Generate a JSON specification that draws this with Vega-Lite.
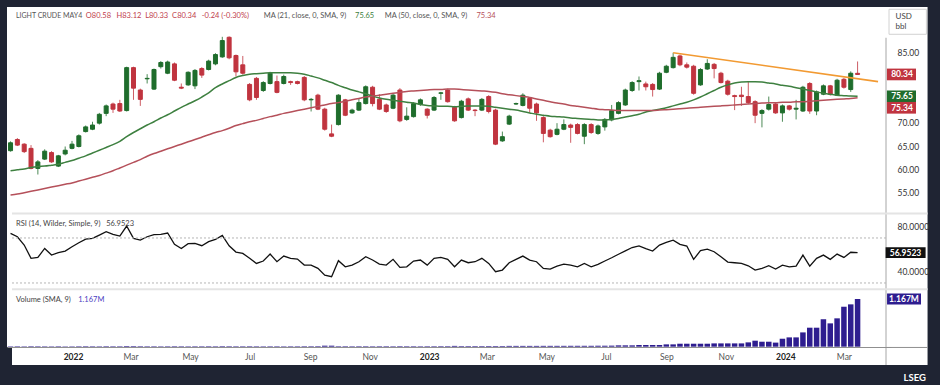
{
"$schema": "https://vega.github.io/schema/vega-lite/v6.json",
"width": 884, "height": 340,
"autosize": {"type": "none"},
"padding": {"left": 7, "top": 7, "right": 49, "bottom": 38},
"background": "#1f2433",
"config": {"view": {"fill": "#ffffff", "stroke": null}, "font": "Lato"},
"data": {"values": [
{"d":"2021-10-29","o":64.0,"h":66.0,"l":63.8,"c":65.7,"m21":59.7,"m50":54.5,"rsi":74.1,"v":11000},
{"d":"2021-11-05","o":66.4,"h":66.7,"l":65.0,"c":65.2,"m21":59.9,"m50":54.7,"rsi":71.1,"v":12000},
{"d":"2021-11-12","o":65.4,"h":65.6,"l":63.5,"c":63.8,"m21":60.1,"m50":55.0,"rsi":63.7,"v":10000},
{"d":"2021-11-19","o":64.5,"h":65.2,"l":60.0,"c":60.2,"m21":60.4,"m50":55.3,"rsi":51.9,"v":13000},
{"d":"2021-11-26","o":60.2,"h":62.0,"l":58.9,"c":61.6,"m21":60.6,"m50":55.6,"rsi":52.7,"v":12000},
{"d":"2021-12-03","o":62.2,"h":64.3,"l":62.0,"c":63.9,"m21":60.7,"m50":55.9,"rsi":60.7,"v":11000},
{"d":"2021-12-10","o":63.6,"h":63.9,"l":61.4,"c":61.6,"m21":60.9,"m50":56.2,"rsi":54.8,"v":10000},
{"d":"2021-12-17","o":60.7,"h":63.1,"l":60.5,"c":62.9,"m21":61.1,"m50":56.5,"rsi":56.9,"v":12000},
{"d":"2021-12-24","o":63.3,"h":64.9,"l":63.0,"c":64.1,"m21":61.5,"m50":56.8,"rsi":58.4,"v":9000},
{"d":"2021-12-31","o":64.5,"h":66.1,"l":64.3,"c":65.4,"m21":61.9,"m50":57.1,"rsi":62.2,"v":10000},
{"d":"2022-01-07","o":64.9,"h":67.5,"l":64.7,"c":67.2,"m21":62.4,"m50":57.5,"rsi":65.8,"v":12000},
{"d":"2022-01-14","o":68.1,"h":69.4,"l":67.9,"c":69.1,"m21":62.9,"m50":57.9,"rsi":69.0,"v":13000},
{"d":"2022-01-21","o":68.6,"h":70.2,"l":68.4,"c":69.5,"m21":63.5,"m50":58.3,"rsi":69.6,"v":12000},
{"d":"2022-01-28","o":69.9,"h":72.1,"l":69.6,"c":71.8,"m21":64.1,"m50":58.7,"rsi":72.6,"v":11000},
{"d":"2022-02-04","o":72.0,"h":73.9,"l":71.4,"c":73.6,"m21":64.7,"m50":59.2,"rsi":75.6,"v":13000},
{"d":"2022-02-11","o":74.0,"h":74.3,"l":72.1,"c":72.9,"m21":65.3,"m50":59.7,"rsi":73.2,"v":12000},
{"d":"2022-02-18","o":74.1,"h":74.9,"l":72.3,"c":72.5,"m21":66.0,"m50":60.3,"rsi":71.7,"v":12000},
{"d":"2022-02-25","o":72.6,"h":82.0,"l":72.4,"c":81.8,"m21":67.0,"m50":60.9,"rsi":80.6,"v":16000},
{"d":"2022-03-04","o":81.8,"h":82.0,"l":74.9,"c":77.4,"m21":67.9,"m50":61.5,"rsi":69.6,"v":15000},
{"d":"2022-03-11","o":77.0,"h":77.3,"l":73.6,"c":75.0,"m21":68.7,"m50":62.1,"rsi":68.1,"v":13000},
{"d":"2022-03-18","o":79.4,"h":80.4,"l":78.4,"c":79.5,"m21":69.5,"m50":62.8,"rsi":71.1,"v":12000},
{"d":"2022-03-25","o":77.2,"h":81.6,"l":77.0,"c":81.4,"m21":70.2,"m50":63.4,"rsi":72.9,"v":12000},
{"d":"2022-04-01","o":82.0,"h":83.2,"l":81.6,"c":82.9,"m21":71.0,"m50":63.9,"rsi":73.2,"v":11000},
{"d":"2022-04-08","o":80.6,"h":83.3,"l":80.4,"c":83.0,"m21":71.7,"m50":64.4,"rsi":74.4,"v":12000},
{"d":"2022-04-15","o":82.6,"h":82.9,"l":78.9,"c":79.1,"m21":72.5,"m50":64.9,"rsi":64.3,"v":13000},
{"d":"2022-04-22","o":77.6,"h":78.4,"l":77.2,"c":77.4,"m21":73.3,"m50":65.4,"rsi":60.7,"v":12000},
{"d":"2022-04-29","o":78.1,"h":81.0,"l":77.9,"c":80.8,"m21":74.0,"m50":65.9,"rsi":64.9,"v":11000},
{"d":"2022-05-06","o":77.9,"h":81.5,"l":77.2,"c":81.2,"m21":74.7,"m50":66.4,"rsi":65.2,"v":12000},
{"d":"2022-05-13","o":81.6,"h":81.9,"l":79.6,"c":80.2,"m21":75.5,"m50":66.9,"rsi":63.1,"v":12000},
{"d":"2022-05-20","o":81.4,"h":83.5,"l":81.2,"c":83.2,"m21":76.4,"m50":67.4,"rsi":66.7,"v":13000},
{"d":"2022-05-27","o":82.6,"h":84.9,"l":82.3,"c":84.6,"m21":77.5,"m50":67.9,"rsi":68.7,"v":12000},
{"d":"2022-06-03","o":84.1,"h":88.4,"l":83.9,"c":87.6,"m21":78.3,"m50":68.3,"rsi":72.3,"v":14000},
{"d":"2022-06-10","o":88.3,"h":88.5,"l":83.6,"c":83.9,"m21":79.0,"m50":68.8,"rsi":63.1,"v":13000},
{"d":"2022-06-17","o":84.4,"h":84.6,"l":79.9,"c":80.9,"m21":79.7,"m50":69.4,"rsi":57.5,"v":12000},
{"d":"2022-06-24","o":82.4,"h":84.3,"l":80.3,"c":80.6,"m21":80.1,"m50":69.8,"rsi":56.3,"v":12000},
{"d":"2022-07-01","o":78.2,"h":78.5,"l":74.6,"c":74.9,"m21":80.4,"m50":70.2,"rsi":51.9,"v":13000},
{"d":"2022-07-08","o":79.5,"h":79.8,"l":74.9,"c":75.4,"m21":80.5,"m50":70.5,"rsi":47.4,"v":12000},
{"d":"2022-07-15","o":76.9,"h":78.9,"l":76.6,"c":78.6,"m21":80.6,"m50":70.9,"rsi":49.5,"v":11000},
{"d":"2022-07-22","o":78.4,"h":80.9,"l":78.2,"c":80.6,"m21":80.7,"m50":71.3,"rsi":55.7,"v":12000},
{"d":"2022-07-29","o":78.8,"h":80.1,"l":76.3,"c":76.5,"m21":80.7,"m50":71.6,"rsi":48.9,"v":12000},
{"d":"2022-08-05","o":78.4,"h":80.3,"l":78.2,"c":79.9,"m21":80.7,"m50":72.0,"rsi":53.9,"v":11000},
{"d":"2022-08-12","o":78.8,"h":79.0,"l":78.1,"c":78.6,"m21":80.7,"m50":72.3,"rsi":51.9,"v":12000},
{"d":"2022-08-19","o":78.8,"h":79.0,"l":78.2,"c":78.4,"m21":80.6,"m50":72.6,"rsi":51.3,"v":12000},
{"d":"2022-08-26","o":79.7,"h":80.0,"l":74.6,"c":74.9,"m21":80.4,"m50":72.9,"rsi":45.9,"v":13000},
{"d":"2022-09-02","o":74.9,"h":75.3,"l":72.4,"c":75.0,"m21":80.0,"m50":73.2,"rsi":45.9,"v":13000},
{"d":"2022-09-09","o":75.9,"h":76.2,"l":72.7,"c":72.9,"m21":79.6,"m50":73.5,"rsi":43.0,"v":14000},
{"d":"2022-09-16","o":72.9,"h":73.2,"l":68.3,"c":68.6,"m21":79.1,"m50":73.8,"rsi":37.0,"v":25000},
{"d":"2022-09-23","o":67.6,"h":69.6,"l":66.9,"c":67.1,"m21":78.6,"m50":74.1,"rsi":35.6,"v":25000},
{"d":"2022-09-30","o":69.6,"h":76.1,"l":69.4,"c":75.9,"m21":78.0,"m50":74.3,"rsi":49.8,"v":13000},
{"d":"2022-10-07","o":74.9,"h":75.1,"l":71.4,"c":71.6,"m21":77.5,"m50":74.6,"rsi":44.4,"v":13000},
{"d":"2022-10-14","o":72.1,"h":73.0,"l":71.9,"c":72.7,"m21":77.0,"m50":74.9,"rsi":45.9,"v":12000},
{"d":"2022-10-21","o":72.7,"h":75.2,"l":72.5,"c":74.3,"m21":76.6,"m50":75.2,"rsi":48.9,"v":13000},
{"d":"2022-10-28","o":74.1,"h":78.0,"l":73.9,"c":77.7,"m21":76.2,"m50":75.5,"rsi":53.3,"v":13000},
{"d":"2022-11-04","o":77.6,"h":77.9,"l":73.5,"c":74.1,"m21":75.7,"m50":75.7,"rsi":50.4,"v":12000},
{"d":"2022-11-11","o":75.0,"h":76.1,"l":72.7,"c":72.9,"m21":75.3,"m50":75.9,"rsi":46.8,"v":13000},
{"d":"2022-11-18","o":73.8,"h":74.1,"l":72.1,"c":72.4,"m21":75.0,"m50":76.1,"rsi":45.9,"v":13000},
{"d":"2022-11-25","o":73.1,"h":76.2,"l":72.9,"c":75.9,"m21":74.8,"m50":76.3,"rsi":51.0,"v":12000},
{"d":"2022-12-02","o":77.0,"h":77.4,"l":70.1,"c":70.4,"m21":74.6,"m50":76.5,"rsi":43.9,"v":14000},
{"d":"2022-12-09","o":70.7,"h":73.3,"l":70.4,"c":71.4,"m21":74.4,"m50":76.7,"rsi":44.4,"v":13000},
{"d":"2022-12-16","o":71.3,"h":74.4,"l":71.1,"c":74.1,"m21":74.2,"m50":76.8,"rsi":49.5,"v":13000},
{"d":"2022-12-23","o":74.0,"h":75.2,"l":73.6,"c":74.9,"m21":73.9,"m50":76.9,"rsi":50.4,"v":12000},
{"d":"2022-12-30","o":72.9,"h":73.1,"l":70.9,"c":71.6,"m21":73.7,"m50":77.0,"rsi":45.9,"v":13000},
{"d":"2023-01-06","o":72.7,"h":75.7,"l":72.5,"c":75.4,"m21":73.6,"m50":77.1,"rsi":51.9,"v":13000},
{"d":"2023-01-13","o":76.3,"h":76.6,"l":74.9,"c":76.4,"m21":73.5,"m50":77.1,"rsi":52.7,"v":14000},
{"d":"2023-01-20","o":77.0,"h":77.3,"l":74.3,"c":74.5,"m21":73.5,"m50":77.2,"rsi":51.0,"v":14000},
{"d":"2023-01-27","o":73.3,"h":73.6,"l":70.2,"c":70.4,"m21":73.4,"m50":77.2,"rsi":44.4,"v":20000},
{"d":"2023-02-03","o":71.1,"h":74.9,"l":70.9,"c":74.6,"m21":73.5,"m50":77.1,"rsi":50.4,"v":15000},
{"d":"2023-02-10","o":75.1,"h":75.4,"l":72.5,"c":72.7,"m21":73.6,"m50":77.0,"rsi":48.0,"v":15000},
{"d":"2023-02-17","o":72.7,"h":72.9,"l":71.4,"c":72.6,"m21":73.6,"m50":76.9,"rsi":48.9,"v":15000},
{"d":"2023-02-24","o":72.7,"h":75.3,"l":72.5,"c":75.0,"m21":73.6,"m50":76.8,"rsi":51.9,"v":15000},
{"d":"2023-03-03","o":75.6,"h":75.9,"l":72.0,"c":72.4,"m21":73.5,"m50":76.7,"rsi":47.4,"v":16000},
{"d":"2023-03-10","o":72.7,"h":73.0,"l":65.2,"c":65.4,"m21":73.3,"m50":76.5,"rsi":40.0,"v":16000},
{"d":"2023-03-17","o":66.1,"h":68.1,"l":65.9,"c":67.0,"m21":73.1,"m50":76.2,"rsi":41.5,"v":16000},
{"d":"2023-03-24","o":69.7,"h":71.7,"l":69.5,"c":71.4,"m21":72.9,"m50":76.0,"rsi":48.0,"v":20000},
{"d":"2023-03-31","o":74.0,"h":74.3,"l":73.8,"c":74.1,"m21":72.7,"m50":75.8,"rsi":51.0,"v":20000},
{"d":"2023-04-07","o":73.7,"h":76.3,"l":73.5,"c":75.9,"m21":72.4,"m50":75.6,"rsi":53.9,"v":20000},
{"d":"2023-04-14","o":75.2,"h":75.5,"l":72.1,"c":73.1,"m21":72.1,"m50":75.4,"rsi":50.4,"v":20000},
{"d":"2023-04-21","o":74.0,"h":74.3,"l":70.4,"c":72.1,"m21":71.8,"m50":75.1,"rsi":48.9,"v":20000},
{"d":"2023-04-28","o":71.1,"h":71.4,"l":65.8,"c":67.7,"m21":71.6,"m50":74.8,"rsi":43.0,"v":21000},
{"d":"2023-05-05","o":68.4,"h":68.7,"l":66.8,"c":67.0,"m21":71.4,"m50":74.5,"rsi":42.4,"v":21000},
{"d":"2023-05-12","o":67.5,"h":69.9,"l":67.3,"c":68.6,"m21":71.3,"m50":74.2,"rsi":45.0,"v":21000},
{"d":"2023-05-19","o":68.6,"h":70.7,"l":68.4,"c":69.6,"m21":71.2,"m50":74.0,"rsi":46.8,"v":21000},
{"d":"2023-05-26","o":69.5,"h":69.8,"l":65.7,"c":69.0,"m21":71.0,"m50":73.7,"rsi":45.9,"v":22000},
{"d":"2023-06-02","o":69.6,"h":69.9,"l":67.5,"c":67.7,"m21":70.9,"m50":73.5,"rsi":44.4,"v":22000},
{"d":"2023-06-09","o":67.1,"h":69.9,"l":65.4,"c":69.6,"m21":70.8,"m50":73.3,"rsi":47.4,"v":22000},
{"d":"2023-06-16","o":69.6,"h":69.9,"l":67.6,"c":67.9,"m21":70.7,"m50":73.1,"rsi":44.4,"v":22000},
{"d":"2023-06-23","o":67.7,"h":69.6,"l":67.4,"c":69.3,"m21":70.6,"m50":72.9,"rsi":46.5,"v":24000},
{"d":"2023-06-30","o":69.1,"h":71.0,"l":68.3,"c":70.7,"m21":70.6,"m50":72.8,"rsi":49.5,"v":24000},
{"d":"2023-07-07","o":70.6,"h":73.8,"l":70.3,"c":72.6,"m21":70.7,"m50":72.7,"rsi":52.4,"v":26000},
{"d":"2023-07-14","o":72.0,"h":74.6,"l":71.8,"c":74.3,"m21":70.9,"m50":72.6,"rsi":55.5,"v":33000},
{"d":"2023-07-21","o":73.8,"h":77.3,"l":73.6,"c":77.0,"m21":71.2,"m50":72.6,"rsi":58.5,"v":33000},
{"d":"2023-07-28","o":76.9,"h":78.9,"l":76.6,"c":78.6,"m21":71.5,"m50":72.6,"rsi":61.5,"v":33000},
{"d":"2023-08-04","o":78.8,"h":79.9,"l":76.9,"c":79.0,"m21":71.8,"m50":72.6,"rsi":63.0,"v":41000},
{"d":"2023-08-11","o":78.3,"h":78.8,"l":76.9,"c":77.7,"m21":72.3,"m50":72.6,"rsi":60.5,"v":41000},
{"d":"2023-08-18","o":78.2,"h":78.5,"l":75.6,"c":77.1,"m21":72.6,"m50":72.6,"rsi":58.4,"v":41000},
{"d":"2023-08-25","o":77.2,"h":80.9,"l":77.0,"c":80.6,"m21":72.9,"m50":72.7,"rsi":63.7,"v":41000},
{"d":"2023-09-01","o":80.8,"h":82.4,"l":80.6,"c":82.1,"m21":73.2,"m50":72.8,"rsi":66.1,"v":57000},
{"d":"2023-09-08","o":81.8,"h":85.0,"l":81.6,"c":84.0,"m21":73.6,"m50":72.9,"rsi":68.1,"v":57000},
{"d":"2023-09-15","o":84.3,"h":84.6,"l":82.1,"c":82.4,"m21":74.0,"m50":73.0,"rsi":64.3,"v":73000},
{"d":"2023-09-22","o":82.4,"h":82.9,"l":81.6,"c":81.9,"m21":74.4,"m50":73.1,"rsi":62.8,"v":73000},
{"d":"2023-09-29","o":82.1,"h":82.4,"l":76.0,"c":76.3,"m21":74.9,"m50":73.2,"rsi":51.0,"v":73000},
{"d":"2023-10-06","o":78.1,"h":81.7,"l":77.9,"c":81.4,"m21":75.5,"m50":73.3,"rsi":58.7,"v":73000},
{"d":"2023-10-13","o":81.5,"h":83.6,"l":81.3,"c":82.7,"m21":76.2,"m50":73.4,"rsi":60.1,"v":73000},
{"d":"2023-10-20","o":82.5,"h":82.8,"l":79.5,"c":81.6,"m21":76.9,"m50":73.5,"rsi":57.8,"v":81000},
{"d":"2023-10-27","o":80.6,"h":80.9,"l":78.4,"c":78.6,"m21":77.6,"m50":73.6,"rsi":53.3,"v":81000},
{"d":"2023-11-03","o":78.9,"h":79.2,"l":75.8,"c":76.1,"m21":78.1,"m50":73.7,"rsi":48.6,"v":81000},
{"d":"2023-11-10","o":75.8,"h":76.0,"l":72.7,"c":75.6,"m21":78.5,"m50":73.8,"rsi":48.0,"v":81000},
{"d":"2023-11-17","o":75.9,"h":77.7,"l":73.6,"c":75.6,"m21":78.7,"m50":73.9,"rsi":47.4,"v":81000},
{"d":"2023-11-24","o":75.6,"h":78.9,"l":74.0,"c":74.3,"m21":78.8,"m50":74.0,"rsi":45.3,"v":106000},
{"d":"2023-12-01","o":74.5,"h":74.8,"l":69.9,"c":71.6,"m21":78.8,"m50":74.1,"rsi":41.5,"v":147000},
{"d":"2023-12-08","o":72.0,"h":72.9,"l":69.0,"c":72.6,"m21":78.7,"m50":74.2,"rsi":43.0,"v":122000},
{"d":"2023-12-15","o":72.9,"h":75.6,"l":72.6,"c":73.9,"m21":78.5,"m50":74.3,"rsi":45.3,"v":122000},
{"d":"2023-12-22","o":74.0,"h":74.3,"l":71.9,"c":72.1,"m21":78.3,"m50":74.3,"rsi":42.4,"v":100000},
{"d":"2023-12-29","o":72.1,"h":73.9,"l":70.2,"c":73.6,"m21":78.0,"m50":74.4,"rsi":45.9,"v":195000},
{"d":"2024-01-05","o":73.6,"h":73.8,"l":72.6,"c":72.9,"m21":77.8,"m50":74.4,"rsi":44.4,"v":228000},
{"d":"2024-01-12","o":72.9,"h":74.9,"l":70.7,"c":73.1,"m21":77.5,"m50":74.5,"rsi":45.0,"v":228000},
{"d":"2024-01-19","o":72.5,"h":77.9,"l":72.3,"c":77.6,"m21":77.2,"m50":74.5,"rsi":54.8,"v":350000},
{"d":"2024-01-26","o":78.4,"h":78.7,"l":71.9,"c":72.5,"m21":76.9,"m50":74.6,"rsi":45.0,"v":465000},
{"d":"2024-02-02","o":72.5,"h":76.9,"l":71.6,"c":76.6,"m21":76.6,"m50":74.7,"rsi":51.9,"v":465000},
{"d":"2024-02-09","o":76.1,"h":78.2,"l":75.9,"c":77.9,"m21":76.3,"m50":74.8,"rsi":54.8,"v":672000},
{"d":"2024-02-16","o":77.9,"h":78.1,"l":75.8,"c":76.1,"m21":76.1,"m50":74.9,"rsi":51.0,"v":571000},
{"d":"2024-02-23","o":75.9,"h":79.4,"l":75.7,"c":79.1,"m21":75.9,"m50":75.0,"rsi":55.7,"v":694000},
{"d":"2024-03-01","o":79.3,"h":79.6,"l":77.3,"c":77.6,"m21":75.8,"m50":75.1,"rsi":52.7,"v":978000},
{"d":"2024-03-08","o":77.1,"h":81.0,"l":76.6,"c":80.6,"m21":75.7,"m50":75.2,"rsi":57.3,"v":1036000},
{"d":"2024-03-15","o":80.58,"h":83.12,"l":80.33,"c":80.34,"m21":75.65,"m50":75.34,"rsi":56.9523,"v":1167000}
]},
"encoding": {
  "x": {"field": "d", "type": "temporal", "axis": null,
    "scale": {"type": "utc", "domain": [{"year": 2021, "month": "oct", "date": 30, "hours": 12, "utc": true}, {"year": 2024, "month": "apr", "date": 13, "hours": 3, "utc": true}]}}
},
"layer": [
  {"mark": {"type": "rule", "clip": true, "strokeWidth": 1, "opacity": 0.8},
   "encoding": {
     "y": {"field": "l", "type": "quantitative", "scale": {"domain": [21.94, 94.79], "nice": false, "zero": false},
       "axis": {"orient": "right", "zindex": 1, "values": [55, 60, 65, 70, 85], "format": ".2f", "title": null, "grid": false, "domain": false, "ticks": false, "labelPadding": 6, "labelFontSize": 8.5, "labelColor": "#333333"}},
     "y2": {"field": "h"},
     "color": {"condition": {"test": "datum.c >= datum.o", "value": "#1f6d2c"}, "value": "#c0343f"}}},
  {"mark": {"type": "bar", "clip": true, "size": 4, "strokeWidth": 1},
   "encoding": {
     "y": {"field": "o", "type": "quantitative", "scale": {"domain": [21.94, 94.79], "nice": false, "zero": false}, "axis": null},
     "y2": {"field": "c"},
     "color": {"condition": {"test": "datum.c >= datum.o", "value": "#1f6d2c"}, "value": "#c0343f"},
     "stroke": {"condition": {"test": "datum.c >= datum.o", "value": "#1f6d2c"}, "value": "#c0343f"}}},
  {"mark": {"type": "line", "clip": true, "color": "#3e8040", "strokeWidth": 1.5, "interpolate": "monotone"},
   "encoding": {"y": {"field": "m21", "type": "quantitative", "scale": {"domain": [21.94, 94.79], "nice": false, "zero": false}, "axis": null}}},
  {"mark": {"type": "line", "clip": true, "color": "#b5505a", "strokeWidth": 1.5, "interpolate": "monotone"},
   "encoding": {"y": {"field": "m50", "type": "quantitative", "scale": {"domain": [21.94, 94.79], "nice": false, "zero": false}, "axis": null}}},
  {"data": {"values": [{"d": "2023-09-08", "p": 85.0}, {"d": "2024-04-05", "p": 78.8}]},
   "mark": {"type": "line", "color": "#f29a32", "strokeWidth": 1.6},
   "encoding": {"y": {"field": "p", "type": "quantitative", "scale": {"domain": [21.94, 94.79], "nice": false, "zero": false}, "axis": null}}},
  {"mark": {"type": "line", "clip": true, "color": "#111111", "strokeWidth": 1.3},
   "encoding": {"y": {"field": "rsi", "type": "quantitative", "scale": {"domain": [-26.9, 275.29], "nice": false, "zero": false},
     "axis": {"orient": "right", "zindex": 1, "values": [40, 80], "format": ".4f", "title": null, "grid": false, "domain": false, "ticks": false, "labelPadding": 6, "labelFontSize": 8.5, "labelColor": "#333333"}}}},
  {"mark": {"type": "bar", "clip": true, "size": 5.5, "color": "#2e1d8f"},
   "encoding": {
     "x": {"field": "d", "type": "temporal",
       "axis": {"orient": "bottom", "zindex": 1, "title": null, "grid": false, "ticks": false,
         "domainColor": "#8f8f8f", "labelPadding": 5, "labelFontSize": 8.5, "labelFlush": false, "labelOverlap": false,
         "values": [
           {"year": 2022, "month": "jan", "date": 1, "utc": true}, {"year": 2022, "month": "mar", "date": 1, "utc": true},
           {"year": 2022, "month": "may", "date": 1, "utc": true}, {"year": 2022, "month": "jul", "date": 1, "utc": true},
           {"year": 2022, "month": "sep", "date": 1, "utc": true}, {"year": 2022, "month": "nov", "date": 1, "utc": true},
           {"year": 2023, "month": "jan", "date": 1, "utc": true}, {"year": 2023, "month": "mar", "date": 1, "utc": true},
           {"year": 2023, "month": "may", "date": 1, "utc": true}, {"year": 2023, "month": "jul", "date": 1, "utc": true},
           {"year": 2023, "month": "sep", "date": 1, "utc": true}, {"year": 2023, "month": "nov", "date": 1, "utc": true},
           {"year": 2024, "month": "jan", "date": 1, "utc": true}, {"year": 2024, "month": "mar", "date": 1, "utc": true}],
         "labelExpr": "utcFormat(datum.value, '%m') == '01' ? utcFormat(datum.value, '%Y') : utcFormat(datum.value, '%b')",
         "labelFontWeight": {"condition": {"test": "utcFormat(datum.value, '%m') == '01'", "value": "bold"}, "value": "normal"},
         "labelColor": {"condition": {"test": "utcFormat(datum.value, '%m') == '01'", "value": "#222222"}, "value": "#555555"}}},
     "y": {"field": "v", "type": "quantitative", "scale": {"domain": [-7300, 8311500], "nice": false, "zero": false}, "axis": null},
     "y2": {"datum": 0}}},
  {"transform": [{"filter": {"field": "d", "equal": {"year": 2024, "month": "mar", "date": 15, "utc": true}}}],
   "layer": [
    {"mark": {"type": "rect", "color": "#ffffff"},
     "encoding": {"x": {"datum": {"year": 2024, "month": "apr", "date": 13, "hours": 3, "utc": true}, "type": "temporal", "axis": null},
       "x2": {"datum": {"year": 2024, "month": "may", "date": 25, "hours": 17, "utc": true}},
       "y": {"datum": 94.79, "type": "quantitative", "axis": null}, "y2": {"datum": 18.08}}},
    {"mark": {"type": "rect", "color": "#ffffff"},
     "encoding": {"x": {"datum": {"year": 2021, "month": "oct", "date": 30, "hours": 12, "utc": true}, "type": "temporal", "axis": null},
       "x2": {"datum": {"year": 2024, "month": "apr", "date": 13, "hours": 3, "utc": true}},
       "y": {"datum": 21.94, "type": "quantitative", "axis": null}, "y2": {"datum": 18.08}}},
    {"mark": {"type": "rule", "color": "#8f8f8f", "strokeWidth": 1},
     "encoding": {"x": {"datum": {"year": 2024, "month": "apr", "date": 13, "hours": 3, "utc": true}, "type": "temporal", "axis": null},
       "x2": {"datum": {"year": 2024, "month": "may", "date": 25, "hours": 17, "utc": true}},
       "y": {"datum": 21.84, "type": "quantitative", "axis": null}}},
    {"mark": {"type": "rule", "color": "#a6a6a6", "strokeWidth": 1},
     "encoding": {"x": {"datum": {"year": 2024, "month": "apr", "date": 13, "hours": 3, "utc": true}, "type": "temporal", "axis": null},
       "y": {"datum": 88.2, "type": "quantitative", "axis": null}, "y2": {"datum": 18.08}}},
    {"mark": {"type": "point", "shape": "M0.15,-0.625H2.02V0.625H0.15Z", "size": 1600, "filled": true, "fill": "#ffffff", "stroke": "#d2d2d2", "strokeWidth": 1, "opacity": 1},
     "encoding": {"x": {"datum": {"year": 2024, "month": "apr", "date": 13, "hours": 3, "utc": true}, "type": "temporal", "axis": null},
       "y": {"datum": 91.62, "type": "quantitative", "axis": null}}},
    {"mark": {"type": "text", "align": "left", "baseline": "middle", "dx": 9.5, "fontSize": 8, "color": "#444444", "text": "USD"},
     "encoding": {"x": {"datum": {"year": 2024, "month": "apr", "date": 13, "hours": 3, "utc": true}, "type": "temporal", "axis": null},
       "y": {"datum": 92.71, "type": "quantitative", "axis": null}}},
    {"mark": {"type": "text", "align": "left", "baseline": "middle", "dx": 9.5, "fontSize": 8, "color": "#444444", "text": "bbl"},
     "encoding": {"x": {"datum": {"year": 2024, "month": "apr", "date": 13, "hours": 3, "utc": true}, "type": "temporal", "axis": null},
       "y": {"datum": 90.57, "type": "quantitative", "axis": null}}},
    {"mark": {"type": "text", "align": "left", "baseline": "middle", "fontSize": 7, "color": "#555555", "text": "LIGHT CRUDE MAY4"},
     "encoding": {"x": {"datum": {"year": 2021, "month": "nov", "date": 3, "hours": 13, "utc": true}, "type": "temporal", "axis": null},
       "y": {"datum": 92.86, "type": "quantitative", "axis": null}}},
    {"mark": {"type": "text", "align": "left", "baseline": "middle", "fontSize": 7.5, "color": "#c0404c", "text": "O80.58"},
     "encoding": {"x": {"datum": {"year": 2022, "month": "jan", "date": 14, "hours": 4, "utc": true}, "type": "temporal", "axis": null},
       "y": {"datum": 92.86, "type": "quantitative", "axis": null}}},
    {"mark": {"type": "text", "align": "left", "baseline": "middle", "fontSize": 7.5, "color": "#c0404c", "text": "H83.12"},
     "encoding": {"x": {"datum": {"year": 2022, "month": "feb", "date": 14, "hours": 14, "utc": true}, "type": "temporal", "axis": null},
       "y": {"datum": 92.86, "type": "quantitative", "axis": null}}},
    {"mark": {"type": "text", "align": "left", "baseline": "middle", "fontSize": 7.5, "color": "#c0404c", "text": "L80.33"},
     "encoding": {"x": {"datum": {"year": 2022, "month": "mar", "date": 15, "hours": 23, "utc": true}, "type": "temporal", "axis": null},
       "y": {"datum": 92.86, "type": "quantitative", "axis": null}}},
    {"mark": {"type": "text", "align": "left", "baseline": "middle", "fontSize": 7.5, "color": "#c0404c", "text": "C80.34"},
     "encoding": {"x": {"datum": {"year": 2022, "month": "apr", "date": 12, "hours": 14, "utc": true}, "type": "temporal", "axis": null},
       "y": {"datum": 92.86, "type": "quantitative", "axis": null}}},
    {"mark": {"type": "text", "align": "left", "baseline": "middle", "fontSize": 7.5, "color": "#c0404c", "text": "-0.24 (-0.30%)"},
     "encoding": {"x": {"datum": {"year": 2022, "month": "may", "date": 13, "utc": true}, "type": "temporal", "axis": null},
       "y": {"datum": 92.86, "type": "quantitative", "axis": null}}},
    {"mark": {"type": "text", "align": "left", "baseline": "middle", "fontSize": 7.5, "color": "#555555", "text": "MA (21, close, 0, SMA, 9)"},
     "encoding": {"x": {"datum": {"year": 2022, "month": "jul", "date": 15, "hours": 12, "utc": true}, "type": "temporal", "axis": null},
       "y": {"datum": 92.86, "type": "quantitative", "axis": null}}},
    {"mark": {"type": "text", "align": "left", "baseline": "middle", "fontSize": 7.5, "color": "#3e8040", "text": "75.65"},
     "encoding": {"x": {"datum": {"year": 2022, "month": "oct", "date": 17, "hours": 1, "utc": true}, "type": "temporal", "axis": null},
       "y": {"datum": 92.86, "type": "quantitative", "axis": null}}},
    {"mark": {"type": "text", "align": "left", "baseline": "middle", "fontSize": 7.5, "color": "#555555", "text": "MA (50, close, 0, SMA, 9)"},
     "encoding": {"x": {"datum": {"year": 2022, "month": "nov", "date": 16, "hours": 12, "utc": true}, "type": "temporal", "axis": null},
       "y": {"datum": 92.86, "type": "quantitative", "axis": null}}},
    {"mark": {"type": "text", "align": "left", "baseline": "middle", "fontSize": 7.5, "color": "#b5505a", "text": "75.34"},
     "encoding": {"x": {"datum": {"year": 2023, "month": "feb", "date": 18, "hours": 10, "utc": true}, "type": "temporal", "axis": null},
       "y": {"datum": 92.86, "type": "quantitative", "axis": null}}},
    {"mark": {"type": "point", "shape": "M0.06,-0.39H2V0.39H0.06Z", "size": 900, "filled": true, "fill": "#c0343f", "strokeWidth": 0, "opacity": 1},
     "encoding": {"x": {"datum": {"year": 2024, "month": "apr", "date": 13, "hours": 3, "utc": true}, "type": "temporal", "axis": null},
       "y": {"field": "c", "type": "quantitative", "axis": null}}},
    {"mark": {"type": "text", "align": "center", "baseline": "middle", "dx": 16, "fontSize": 8.5, "fontWeight": "bold", "color": "#ffffff"},
     "encoding": {"x": {"datum": {"year": 2024, "month": "apr", "date": 13, "hours": 3, "utc": true}, "type": "temporal", "axis": null},
       "y": {"field": "c", "type": "quantitative", "axis": null}, "text": {"field": "c", "type": "quantitative", "format": ".2f"}}},
    {"mark": {"type": "point", "shape": "M0.06,-0.39H2V0.39H0.06Z", "size": 900, "filled": true, "fill": "#1f6d2c", "strokeWidth": 0, "opacity": 1},
     "encoding": {"x": {"datum": {"year": 2024, "month": "apr", "date": 13, "hours": 3, "utc": true}, "type": "temporal", "axis": null},
       "y": {"field": "m21", "type": "quantitative", "axis": null}}},
    {"mark": {"type": "text", "align": "center", "baseline": "middle", "dx": 16, "fontSize": 8.5, "fontWeight": "bold", "color": "#ffffff"},
     "encoding": {"x": {"datum": {"year": 2024, "month": "apr", "date": 13, "hours": 3, "utc": true}, "type": "temporal", "axis": null},
       "y": {"field": "m21", "type": "quantitative", "axis": null}, "text": {"field": "m21", "type": "quantitative", "format": ".2f"}}},
    {"mark": {"type": "point", "shape": "M0.06,-0.39H2V0.39H0.06Z", "size": 900, "filled": true, "fill": "#c0343f", "strokeWidth": 0, "opacity": 1, "yOffset": 10},
     "encoding": {"x": {"datum": {"year": 2024, "month": "apr", "date": 13, "hours": 3, "utc": true}, "type": "temporal", "axis": null},
       "y": {"field": "m50", "type": "quantitative", "axis": null}}},
    {"mark": {"type": "text", "align": "center", "baseline": "middle", "dx": 16, "fontSize": 8.5, "fontWeight": "bold", "color": "#ffffff", "yOffset": 10},
     "encoding": {"x": {"datum": {"year": 2024, "month": "apr", "date": 13, "hours": 3, "utc": true}, "type": "temporal", "axis": null},
       "y": {"field": "m50", "type": "quantitative", "axis": null}, "text": {"field": "m50", "type": "quantitative", "format": ".2f"}}}
   ],
   "encoding": {"y": {"scale": {"domain": [21.94, 94.79], "nice": false, "zero": false}}}
  },
  {"transform": [{"filter": {"field": "d", "equal": {"year": 2024, "month": "mar", "date": 15, "utc": true}}}],
   "layer": [
    {"mark": {"type": "rule", "color": "#b5b5b5", "strokeWidth": 1, "strokeDash": [2, 2]},
     "encoding": {"x": {"datum": {"year": 2021, "month": "oct", "date": 30, "hours": 12, "utc": true}, "type": "temporal", "axis": null},
       "x2": {"datum": {"year": 2024, "month": "apr", "date": 13, "hours": 3, "utc": true}},
       "y": {"datum": 70, "type": "quantitative", "scale": {"domain": [-26.9, 275.29], "nice": false, "zero": false}, "axis": null}}},
    {"mark": {"type": "rule", "color": "#b5b5b5", "strokeWidth": 1, "strokeDash": [2, 2]},
     "encoding": {"x": {"datum": {"year": 2021, "month": "oct", "date": 30, "hours": 12, "utc": true}, "type": "temporal", "axis": null},
       "x2": {"datum": {"year": 2024, "month": "apr", "date": 13, "hours": 3, "utc": true}},
       "y": {"datum": 30, "type": "quantitative", "axis": null}}},
    {"mark": {"type": "rule", "color": "#e4e4e4", "strokeWidth": 2},
     "encoding": {"x": {"datum": {"year": 2021, "month": "oct", "date": 30, "hours": 12, "utc": true}, "type": "temporal", "axis": null},
       "x2": {"datum": {"year": 2024, "month": "may", "date": 25, "hours": 17, "utc": true}},
       "y": {"datum": 91.73, "type": "quantitative", "axis": null}}},
    {"mark": {"type": "rule", "color": "#e4e4e4", "strokeWidth": 2},
     "encoding": {"x": {"datum": {"year": 2021, "month": "oct", "date": 30, "hours": 12, "utc": true}, "type": "temporal", "axis": null},
       "x2": {"datum": {"year": 2024, "month": "may", "date": 25, "hours": 17, "utc": true}},
       "y": {"datum": 24.36, "type": "quantitative", "axis": null}}},
    {"mark": {"type": "text", "align": "left", "baseline": "middle", "fontSize": 7.5, "color": "#444444", "text": "RSI (14, Wilder, Simple, 9)\u00a0\u00a0\u00a056.9523"},
     "encoding": {"x": {"datum": {"year": 2021, "month": "nov", "date": 3, "hours": 13, "utc": true}, "type": "temporal", "axis": null},
       "y": {"datum": 82.4, "type": "quantitative", "axis": null}}},
    {"mark": {"type": "point", "shape": "M-0.02,-0.27H1.98V0.27H-0.02Z", "size": 1600, "filled": true, "fill": "#111111", "strokeWidth": 0, "opacity": 1},
     "encoding": {"x": {"datum": {"year": 2024, "month": "apr", "date": 13, "hours": 3, "utc": true}, "type": "temporal", "axis": null},
       "y": {"field": "rsi", "type": "quantitative", "axis": null}}},
    {"mark": {"type": "text", "align": "center", "baseline": "middle", "dx": 19.5, "fontSize": 8.5, "fontWeight": "bold", "color": "#ffffff"},
     "encoding": {"x": {"datum": {"year": 2024, "month": "apr", "date": 13, "hours": 3, "utc": true}, "type": "temporal", "axis": null},
       "y": {"field": "rsi", "type": "quantitative", "axis": null}, "text": {"field": "rsi", "type": "quantitative", "format": ".4f"}}}
   ]
  },
  {"transform": [{"filter": {"field": "d", "equal": {"year": 2024, "month": "mar", "date": 15, "utc": true}}}],
   "layer": [
    {"mark": {"type": "text", "align": "left", "baseline": "middle", "fontSize": 7.5, "color": "#444444", "text": "Volume (SMA, 9)"},
     "encoding": {"x": {"datum": {"year": 2021, "month": "nov", "date": 3, "hours": 13, "utc": true}, "type": "temporal", "axis": null},
       "y": {"datum": 1142600, "type": "quantitative", "scale": {"domain": [-7300, 8311500], "nice": false, "zero": false}, "axis": null}}},
    {"mark": {"type": "text", "align": "left", "baseline": "middle", "fontSize": 7.5, "color": "#4b3fbf", "text": "1.167M"},
     "encoding": {"x": {"datum": {"year": 2022, "month": "jan", "date": 6, "hours": 9, "utc": true}, "type": "temporal", "axis": null},
       "y": {"datum": 1142600, "type": "quantitative", "axis": null}}},
    {"mark": {"type": "point", "shape": "M0.06,-0.31H2V0.31H0.06Z", "size": 1225, "filled": true, "fill": "#2e1d8f", "strokeWidth": 0, "opacity": 1},
     "encoding": {"x": {"datum": {"year": 2024, "month": "apr", "date": 13, "hours": 3, "utc": true}, "type": "temporal", "axis": null},
       "y": {"field": "v", "type": "quantitative", "axis": null}}},
    {"mark": {"type": "text", "align": "center", "baseline": "middle", "dx": 18, "fontSize": 8.5, "fontWeight": "bold", "color": "#ffffff"},
     "encoding": {"x": {"datum": {"year": 2024, "month": "apr", "date": 13, "hours": 3, "utc": true}, "type": "temporal", "axis": null},
       "y": {"field": "v", "type": "quantitative", "axis": null}, "text": {"field": "v", "type": "quantitative", "format": ".4s"}}},
    {"mark": {"type": "text", "align": "right", "baseline": "middle", "fontSize": 9.5, "fontWeight": "bold", "color": "#ffffff", "text": "LSEG"},
     "encoding": {"x": {"datum": {"year": 2024, "month": "may", "date": 24, "utc": true}, "type": "temporal", "axis": null},
       "y": {"datum": -753600, "type": "quantitative", "axis": null}}}
   ]
  }
],
"resolve": {"scale": {"y": "independent"}, "axis": {"x": "independent"}}
}
